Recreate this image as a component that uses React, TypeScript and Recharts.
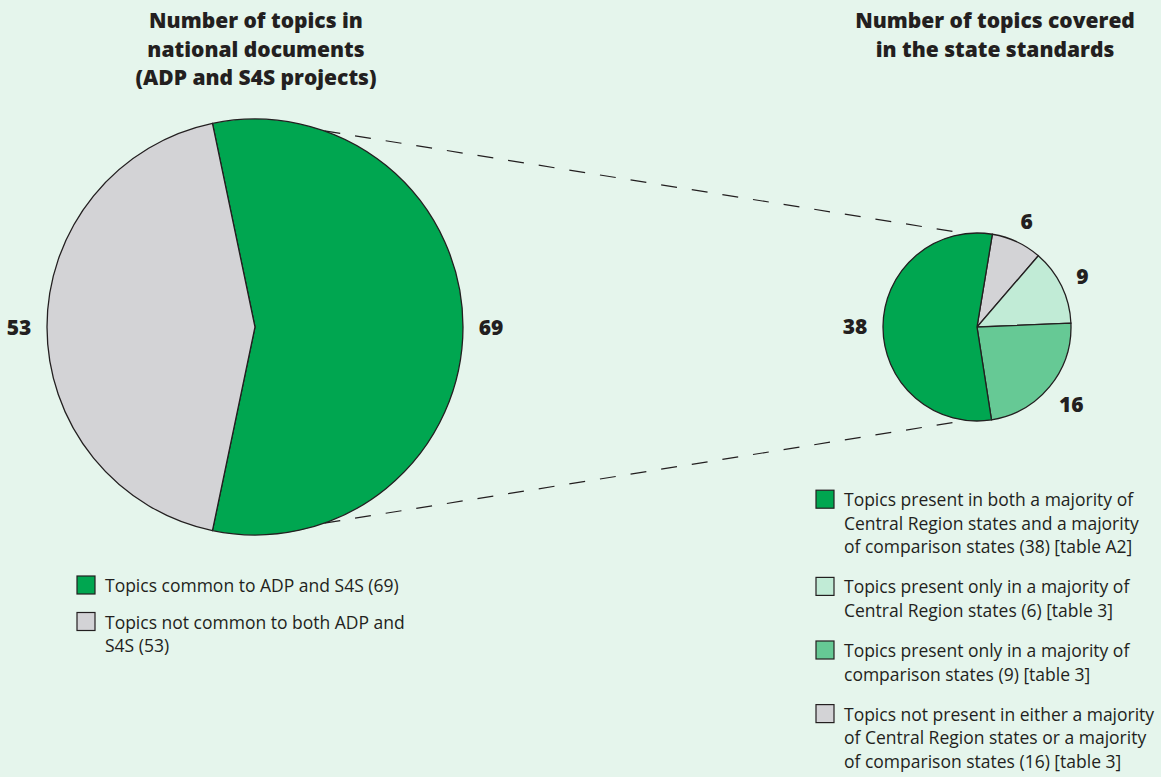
import React from "react";
import { PieChart, Pie, Cell } from "recharts";

const W = 1161;
const H = 777;

const BG = "#e5f5ec";
const INK = "#231f20";

// left pie: national documents
const nationalNames = ["Common to ADP and S4S", "Not common to both"];
const nationalValues = [69, 53];
const nationalColors = ["#00a650", "#d3d3d6"];

// right pie: state standards (clockwise from the top)
const stateNames = ["Neither majority", "Central Region only", "Comparison only", "Both majorities"];
const stateValues = [6, 9, 16, 38];
const stateColors = ["#d3d3d6", "#c1ebd6", "#66c995", "#00a650"];

const leftTitle = ["Number of topics in", "national documents", "(ADP and S4S projects)"];
const rightTitle = ["Number of topics covered", "in the state standards"];

const leftLegendColors = ["#00a650", "#d3d3d6"];
const leftLegendLines = [
  ["Topics common to ADP and S4S (69)"],
  ["Topics not common to both ADP and", "S4S (53)"],
];

const rightLegendColors = ["#00a650", "#c1ebd6", "#66c995", "#d3d3d6"];
const rightLegendLines = [
  ["Topics present in both a majority of", "Central Region states and a majority", "of comparison states (38) [table A2]"],
  ["Topics present only in a majority of", "Central Region states (6) [table 3]"],
  ["Topics present only in a majority of", "comparison states (9) [table 3]"],
  ["Topics not present in either a majority", "of Central Region states or a majority", "of comparison states (16) [table 3]"],
];

const FONT = "'Open Sans', 'Noto Sans', sans-serif";
const RADIAN = Math.PI / 180;

const BIG = { cx: 255, cy: 327, r: 208, start: 101.8 };
const SMALL = { cx: 977, cy: 327, r: 94, start: 80.6 };

const toRows = (names: string[], values: number[]) =>
  names.map((name, i) => ({ name, value: values[i] }));

const nationalData = toRows(nationalNames, nationalValues);
const stateData = toRows(stateNames, stateValues);

function renderLabel(props: any) {
  const { cx, cy, midAngle, outerRadius, value } = props;
  const r = outerRadius + 18 + String(value).length * 5;
  const x = cx + r * Math.cos(-midAngle * RADIAN);
  const y = cy + r * Math.sin(-midAngle * RADIAN);
  return (
    <text
      x={x}
      y={y}
      textAnchor="middle"
      dominantBaseline="central"
      fill={INK}
      fontFamily={FONT}
      fontWeight={800}
      fontSize={21}
    >
      {value}
    </text>
  );
}

function pt(c: { cx: number; cy: number; r: number }, deg: number) {
  return {
    x: c.cx + c.r * Math.cos(deg * RADIAN),
    y: c.cy - c.r * Math.sin(deg * RADIAN),
  };
}

function Legend({
  x,
  y0,
  step,
  gap,
  colors,
  lines,
}: {
  x: number;
  y0: number;
  step: number;
  gap: number;
  colors: string[];
  lines: string[][];
}) {
  let y = y0;
  const out: React.ReactNode[] = [];
  lines.forEach((item, i) => {
    out.push(
      <rect
        key={"sq" + i}
        x={x}
        y={y - 16}
        width={18}
        height={18}
        fill={colors[i]}
        stroke={INK}
        strokeWidth={1.2}
      />
    );
    item.forEach((ln, j) => {
      out.push(
        <text key={`t${i}-${j}`} x={x + 28} y={y + j * step} fontSize={17.5} fill={INK}>
          {ln}
        </text>
      );
    });
    y += (item.length - 1) * step + gap;
  });
  return <g fontFamily={FONT}>{out}</g>;
}

export default function App() {
  const a1 = pt(BIG, 70.5);
  const b1 = pt(SMALL, 96.5);
  const a2 = pt(BIG, -70.5);
  const b2 = pt(SMALL, -96.5);

  return (
    <div style={{ position: "absolute", left: 0, top: 0, width: W, height: H, background: BG }}>
      <svg width={W} height={H} style={{ position: "absolute", left: 0, top: 0 }}>
        <line x1={a1.x} y1={a1.y} x2={b1.x} y2={b1.y} stroke={INK} strokeWidth={1.2} strokeDasharray="16 15" />
        <line x1={a2.x} y1={a2.y} x2={b2.x} y2={b2.y} stroke={INK} strokeWidth={1.2} strokeDasharray="16 15" />
      </svg>
      <div style={{ position: "absolute", left: 0, top: 0 }}>
        <PieChart width={W} height={H} margin={{ top: 0, right: 0, bottom: 0, left: 0 }}>
          <Pie
            data={nationalData}
            dataKey="value"
            nameKey="name"
            cx={BIG.cx}
            cy={BIG.cy}
            outerRadius={BIG.r}
            startAngle={BIG.start}
            endAngle={BIG.start - 360}
            stroke={INK}
            strokeWidth={1.3}
            label={renderLabel}
            labelLine={false}
            isAnimationActive={false}
          >
            {nationalData.map((_, i) => (
              <Cell key={i} fill={nationalColors[i]} />
            ))}
          </Pie>
          <Pie
            data={stateData}
            dataKey="value"
            nameKey="name"
            cx={SMALL.cx}
            cy={SMALL.cy}
            outerRadius={SMALL.r}
            startAngle={SMALL.start}
            endAngle={SMALL.start - 360}
            stroke={INK}
            strokeWidth={1.3}
            label={renderLabel}
            labelLine={false}
            isAnimationActive={false}
          >
            {stateData.map((_, i) => (
              <Cell key={i} fill={stateColors[i]} />
            ))}
          </Pie>
        </PieChart>
      </div>
      <svg width={W} height={H} style={{ position: "absolute", left: 0, top: 0, pointerEvents: "none" }}>
        <g fontFamily={FONT} fontWeight={800} fontSize={21} fill={INK} textAnchor="middle">
          {leftTitle.map((t, i) => (
            <text key={"lt" + i} x={256} y={28.3 + i * 28.4}>
              {t}
            </text>
          ))}
          {rightTitle.map((t, i) => (
            <text key={"rt" + i} x={995} y={28.3 + i * 28.4}>
              {t}
            </text>
          ))}
        </g>
        <Legend x={77} y0={592} step={23.5} gap={36.5} colors={leftLegendColors} lines={leftLegendLines} />
        <Legend x={816} y0={506.2} step={23.6} gap={40} colors={rightLegendColors} lines={rightLegendLines} />
      </svg>
    </div>
  );
}
